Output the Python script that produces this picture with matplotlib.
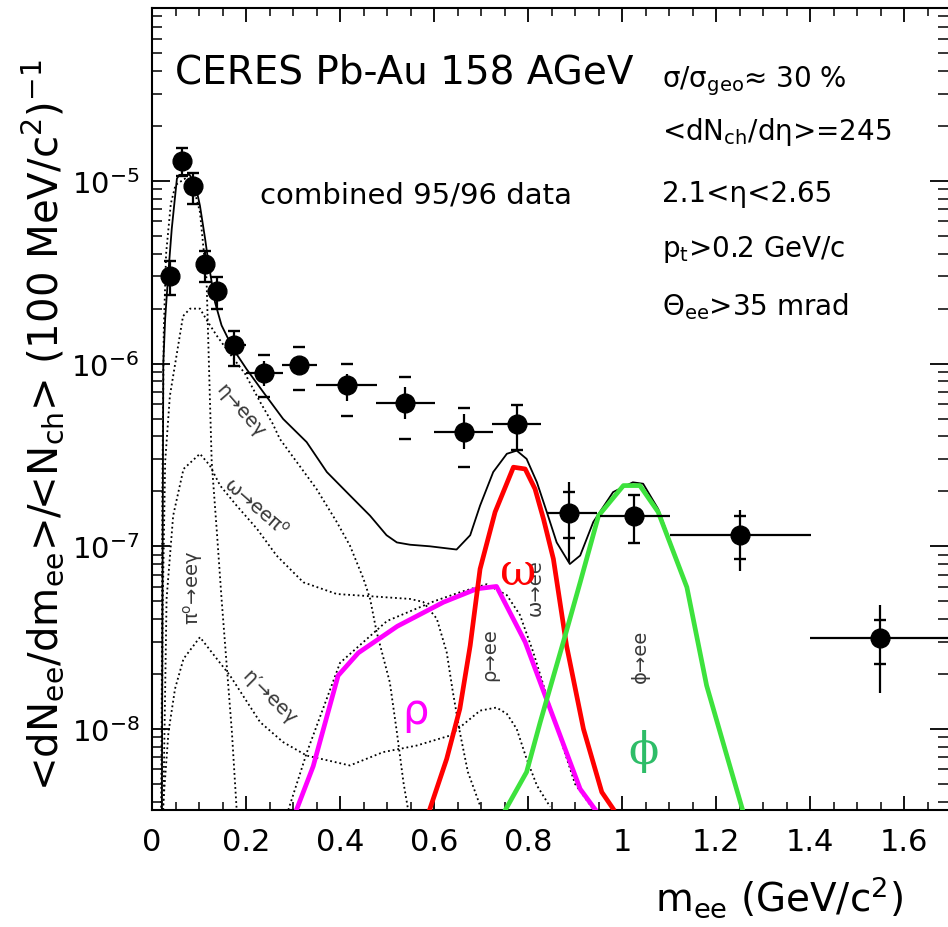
import matplotlib
matplotlib.use('Agg')
import numpy as np
import matplotlib.pyplot as plt
from matplotlib.ticker import MultipleLocator, LogLocator, NullFormatter

plt.rcParams['font.family'] = ['DejaVu Sans']
plt.rcParams['axes.unicode_minus'] = False
plt.rcParams['mathtext.default'] = 'regular'

# ---------------- data points (CERES 95/96) ----------------
x_data = [0.038, 0.064, 0.087, 0.113, 0.138, 0.175, 0.238, 0.313, 0.414, 0.538,
          0.664, 0.776, 0.888, 1.026, 1.251, 1.549]
y_data = [3.03e-6, 1.28e-5, 9.4e-6, 3.5e-6, 2.5e-6, 1.26e-6, 8.85e-7, 9.8e-7, 7.6e-7,
          6.07e-7, 4.21e-7, 4.68e-7, 1.52e-7, 1.47e-7, 1.15e-7, 3.16e-8]
x_lo = [0.030, 0.056, 0.079, 0.105, 0.130, 0.155, 0.201, 0.276, 0.348, 0.477,
        0.600, 0.724, 0.840, 0.953, 1.102, 1.400]
x_hi = [0.046, 0.072, 0.095, 0.121, 0.146, 0.201, 0.278, 0.350, 0.478, 0.602,
        0.726, 0.827, 0.946, 1.102, 1.402, 1.700]
stat_hi = [3.65e-6, 1.52e-5, 1.11e-5, 4.16e-6, 2.99e-6, 1.50e-6, 1.04e-6, 1.08e-6,
           8.79e-7, 7.43e-7, 5.31e-7, 6.01e-7, 2.24e-7, 1.90e-7, 1.59e-7, 4.80e-8]
stat_lo = [2.38e-6, 1.07e-5, 7.5e-6, 2.81e-6, 2.0e-6, 9.75e-7, 7.59e-7, 9.0e-7,
           6.28e-7, 4.98e-7, 3.41e-7, 3.34e-7, 8.19e-8, 1.04e-7, 7.36e-8, 1.58e-8]
syst_hi = [3.65e-6, 1.52e-5, 1.11e-5, 4.16e-6, 2.99e-6, 1.50e-6, 1.12e-6, 1.23e-6,
           1.0e-6, 8.41e-7, 5.73e-7, 5.95e-7, 1.98e-7, 1.90e-7, 1.46e-7, 3.97e-8]
syst_lo = [2.38e-6, 1.07e-5, 7.5e-6, 2.81e-6, 2.0e-6, 9.75e-7, 6.59e-7, 7.18e-7,
           5.19e-7, 3.87e-7, 2.71e-7, 3.37e-7, 1.11e-7, 1.04e-7, 8.53e-8, 2.27e-8]

# ---------------- hadronic cocktail (total, solid) ----------------
tot_x = [0.021, 0.022, 0.024, 0.028, 0.035, 0.042, 0.053, 0.058, 0.080, 0.092,
         0.102, 0.113, 0.120, 0.134, 0.148, 0.173, 0.201, 0.237, 0.279, 0.329,
         0.372, 0.421, 0.464, 0.499, 0.521, 0.549, 0.591, 0.648, 0.677, 0.698,
         0.726, 0.755, 0.776, 0.797, 0.819, 0.840, 0.861, 0.889, 0.911, 0.939,
         0.981, 1.023, 1.045, 1.077, 1.138, 1.180, 1.223, 1.258]
tot_y = [3.5e-9, 3e-8, 1.0e-6, 1.76e-6, 3.2e-6, 5.46e-6, 1.03e-5, 1.08e-5, 1.08e-5, 9.6e-6,
         7.33e-6, 4.82e-6, 3.59e-6, 2.17e-6, 1.62e-6, 1.20e-6, 9.35e-7, 6.97e-7, 4.98e-7, 3.72e-7,
         2.55e-7, 1.90e-7, 1.47e-7, 1.15e-7, 1.05e-7, 1.02e-7, 1.0e-7, 9.6e-8, 1.15e-7, 1.67e-7,
         2.55e-7, 3.21e-7, 3.34e-7, 3.01e-7, 2.24e-7, 1.54e-7, 1.05e-7, 8.0e-8, 8.9e-8, 1.36e-7,
         1.98e-7, 2.24e-7, 2.2e-7, 1.6e-7, 6.0e-8, 1.73e-8, 7.15e-9, 3.5e-9]

# components (dotted)
pi0_x = [0.020, 0.022, 0.025, 0.030, 0.040, 0.050, 0.070, 0.085, 0.095, 0.102, 0.109,
         0.116, 0.119, 0.123, 0.127, 0.138, 0.148, 0.159, 0.170, 0.180]
pi0_y = [3.5e-9, 2e-7, 1.5e-6, 4e-6, 7.5e-6, 9.5e-6, 1.03e-5, 9.5e-6, 7.96e-6, 6.76e-6, 4.43e-6,
         2.91e-6, 1.55e-6, 6.68e-7, 2.90e-7, 1.20e-7, 5.15e-8, 2.22e-8, 9.6e-9, 3.66e-9]
eta_x = [0.020, 0.023, 0.028, 0.038, 0.066, 0.081, 0.102, 0.119, 0.138, 0.166, 0.198,
         0.230, 0.257, 0.272, 0.350, 0.393, 0.421, 0.450, 0.464, 0.478, 0.506, 0.521,
         0.535, 0.545]
eta_y = [3.5e-9, 5e-8, 2.9e-7, 6.65e-7, 1.82e-6, 2.0e-6, 2.0e-6, 1.69e-6, 1.42e-6, 1.13e-6,
         8.8e-7, 6.17e-7, 4.68e-7, 3.87e-7, 2.06e-7, 1.36e-7, 1.01e-7, 6.63e-8, 5.16e-8, 3.39e-8,
         1.80e-8, 9.6e-9, 5.1e-9, 3.6e-9]
omd_x = [0.024, 0.031, 0.045, 0.067, 0.102, 0.123, 0.145, 0.180, 0.223, 0.265, 0.322,
         0.393, 0.464, 0.549, 0.577, 0.606, 0.627, 0.640, 0.655, 0.672, 0.698]
omd_y = [3.6e-9, 5.15e-8, 1.47e-7, 2.65e-7, 3.21e-7, 2.77e-7, 2.15e-7, 1.67e-7, 1.25e-7,
         8.9e-8, 6.35e-8, 5.48e-8, 5.33e-8, 5.15e-8, 4.96e-8, 4.01e-8, 2.63e-8, 1.60e-8,
         9.6e-9, 5.82e-9, 3.81e-9]
etap_x = [0.023, 0.035, 0.049, 0.067, 0.102, 0.138, 0.166, 0.230, 0.279, 0.329, 0.421,
          0.492, 0.563, 0.634, 0.698, 0.733, 0.755, 0.776, 0.797, 0.819, 0.847]
etap_y = [3.6e-9, 9.6e-9, 1.66e-8, 2.42e-8, 3.18e-8, 2.42e-8, 1.96e-8, 1.09e-8, 8.47e-9,
          7.15e-9, 6.31e-9, 7.47e-9, 8.11e-9, 9.2e-9, 1.26e-8, 1.31e-8, 1.21e-8, 1.0e-8,
          6.86e-9, 4.9e-9, 3.75e-9]
rhod_x = [0.290, 0.330, 0.400, 0.500, 0.600, 0.655, 0.712, 0.755, 0.783, 0.811, 0.850,
          0.900, 0.940]
rhod_y = [3.6e-9, 7.5e-9, 2.3e-8, 3.9e-8, 5.0e-8, 5.6e-8, 6.2e-8, 5.4e-8, 4.2e-8, 2.64e-8,
          1.25e-8, 5.0e-9, 3.6e-9]

# colored vector-meson lines
rho_x = [0.304, 0.343, 0.396, 0.439, 0.522, 0.620, 0.691, 0.733, 0.794, 0.847, 0.911, 0.950]
rho_y = [3.42e-9, 6.25e-9, 1.96e-8, 2.61e-8, 3.65e-8, 4.94e-8, 5.85e-8, 6.03e-8, 2.99e-8,
         1.29e-8, 4.69e-9, 3.42e-9]
omega_x = [0.590, 0.627, 0.655, 0.677, 0.698, 0.730, 0.769, 0.794, 0.815, 0.833, 0.854,
           0.882, 0.918, 0.957, 0.981]
omega_y = [3.57e-9, 6.86e-9, 1.29e-8, 2.86e-8, 7.51e-8, 1.54e-7, 2.71e-7, 2.65e-7, 2.06e-7,
           1.41e-7, 8.53e-8, 2.86e-8, 1.0e-8, 4.51e-9, 3.66e-9]
phi_x = [0.751, 0.797, 0.826, 0.879, 0.911, 0.950, 1.003, 1.038, 1.077, 1.138, 1.180,
         1.223, 1.258]
phi_y = [3.57e-9, 5.81e-9, 1.09e-8, 3.24e-8, 6.35e-8, 1.47e-7, 2.15e-7, 2.15e-7, 1.54e-7,
         5.97e-8, 1.73e-8, 7.15e-9, 3.50e-9]

# ---------------- figure ----------------
W, H = 948, 928
fig = plt.figure(figsize=(W / 100, H / 100), dpi=100)
ax = fig.add_axes([152 / W, (H - 811) / H, (W - 152) / W, (811 - 9) / H])
ax.set_yscale('log')
ax.set_xlim(0, 1.6936)
ax.set_ylim(3.6e-9, 8.85e-5)

dot = (0, (1.0, 1.6))
for cx, cy in [(pi0_x, pi0_y), (eta_x, eta_y), (omd_x, omd_y), (etap_x, etap_y), (rhod_x, rhod_y)]:
    ax.plot(cx, cy, color='black', lw=1.3, ls=dot, zorder=2)
ax.plot(tot_x, tot_y, color='black', lw=1.3, zorder=2)

ax.plot(rho_x, rho_y, color='#ff00ff', lw=3.4, zorder=4)
ax.plot(omega_x, omega_y, color='#ff0000', lw=3.4, zorder=4)
ax.plot(phi_x, phi_y, color='#3de23d', lw=3.4, zorder=4)

xd = np.array(x_data); yd = np.array(y_data)
xerr = [xd - np.array(x_lo), np.array(x_hi) - xd]
yerr = [yd - np.array(stat_lo), np.array(stat_hi) - yd]
ax.errorbar(xd, yd, xerr=xerr, yerr=yerr, fmt='o', color='black', ms=13.5,
            elinewidth=1.6, capsize=0, zorder=5)
ax.plot(xd, syst_hi, ls='none', marker='_', ms=9, mew=1.7, color='black', zorder=5)
ax.plot(xd, syst_lo, ls='none', marker='_', ms=9, mew=1.7, color='black', zorder=5)

# axes styling
ax.xaxis.set_major_locator(MultipleLocator(0.2))
ax.xaxis.set_minor_locator(MultipleLocator(0.05))
ax.yaxis.set_major_locator(LogLocator(base=10))
ax.yaxis.set_minor_locator(LogLocator(base=10, subs=np.arange(2, 10)))
ax.yaxis.set_minor_formatter(NullFormatter())
ax.xaxis.set_major_formatter(plt.FuncFormatter(lambda v, p: ('%g' % round(v, 2))))
ax.tick_params(axis='both', which='both', direction='in', top=True, right=True)
ax.tick_params(axis='y', which='major', length=13, width=1.3, labelsize=21, pad=9)
ax.tick_params(axis='y', which='minor', length=7, width=1.1)
ax.tick_params(axis='x', which='major', length=10, width=1.3, labelsize=22, pad=12)
ax.tick_params(axis='x', which='minor', length=5.5, width=1.1)
for s in ['left', 'bottom', 'top']:
    ax.spines[s].set_linewidth(1.5)
ax.spines['right'].set_visible(False)

def fx(px):
    return px / W

def fy(py):
    return 1 - py / H

# axis titles
fig.text(fx(43), fy(425), r'<dN$_{ee}$/dm$_{ee}$>/<N$_{ch}$> (100 MeV/c$^{2}$)$^{-1}$',
         rotation=90, ha='center', va='center', fontsize=29)
fig.text(fx(779), fy(912), r'm$_{ee}$ (GeV/c$^{2}$)', ha='center', va='baseline', fontsize=28)

# annotation texts
fig.text(fx(175), fy(83), 'CERES Pb-Au 158 AGeV', fontsize=28, va='baseline', ha='left')
fig.text(fx(260), fy(203), 'combined 95/96 data', fontsize=21, va='baseline', ha='left')
rx = fx(662)
fig.text(rx, fy(87), r'σ/σ$_{geo}$≈ 30 %', fontsize=20, va='baseline')
fig.text(rx, fy(140), r'<dN$_{ch}$/dη>=245', fontsize=20, va='baseline')
fig.text(rx, fy(202), '2.1<η<2.65', fontsize=20, va='baseline')
fig.text(rx, fy(257), r'p$_{t}$>0.2 GeV/c', fontsize=20, va='baseline')
fig.text(rx, fy(315), r'Θ$_{ee}$>35 mrad', fontsize=20, va='baseline')

lab = dict(fontsize=14, color='#383838', ha='center', va='center', rotation_mode='anchor')
fig.text(fx(240), fy(411), 'η→eeγ', rotation=-49, **lab)
fig.text(fx(256), fy(507), r'ω→eeπ$^{o}$', rotation=-41, **lab)
fig.text(fx(193), fy(588), r'π$^{o}$→eeγ', rotation=90, **lab)
fig.text(fx(269), fy(698), 'η′→eeγ', rotation=-45, **lab)
fig.text(fx(490), fy(655), 'ρ→ee', rotation=90, **lab)
fig.text(fx(535), fy(588), 'ω→ee', rotation=90, **lab)
fig.text(fx(640), fy(656), 'ϕ→ee', rotation=90, **lab)

fig.text(fx(518), fy(572), 'ω', color='#ff0000', fontsize=32, ha='center', va='center',
         family='DejaVu Serif', zorder=6)
fig.text(fx(415), fy(712), 'ρ', color='#ff00ff', fontsize=30, ha='center', va='center', zorder=6)
fig.text(fx(643), fy(751), 'ϕ', color='#2ebd68', fontsize=32, ha='center', va='center',
         family='DejaVu Serif', zorder=6)

fig.savefig('out.png', dpi=100)
